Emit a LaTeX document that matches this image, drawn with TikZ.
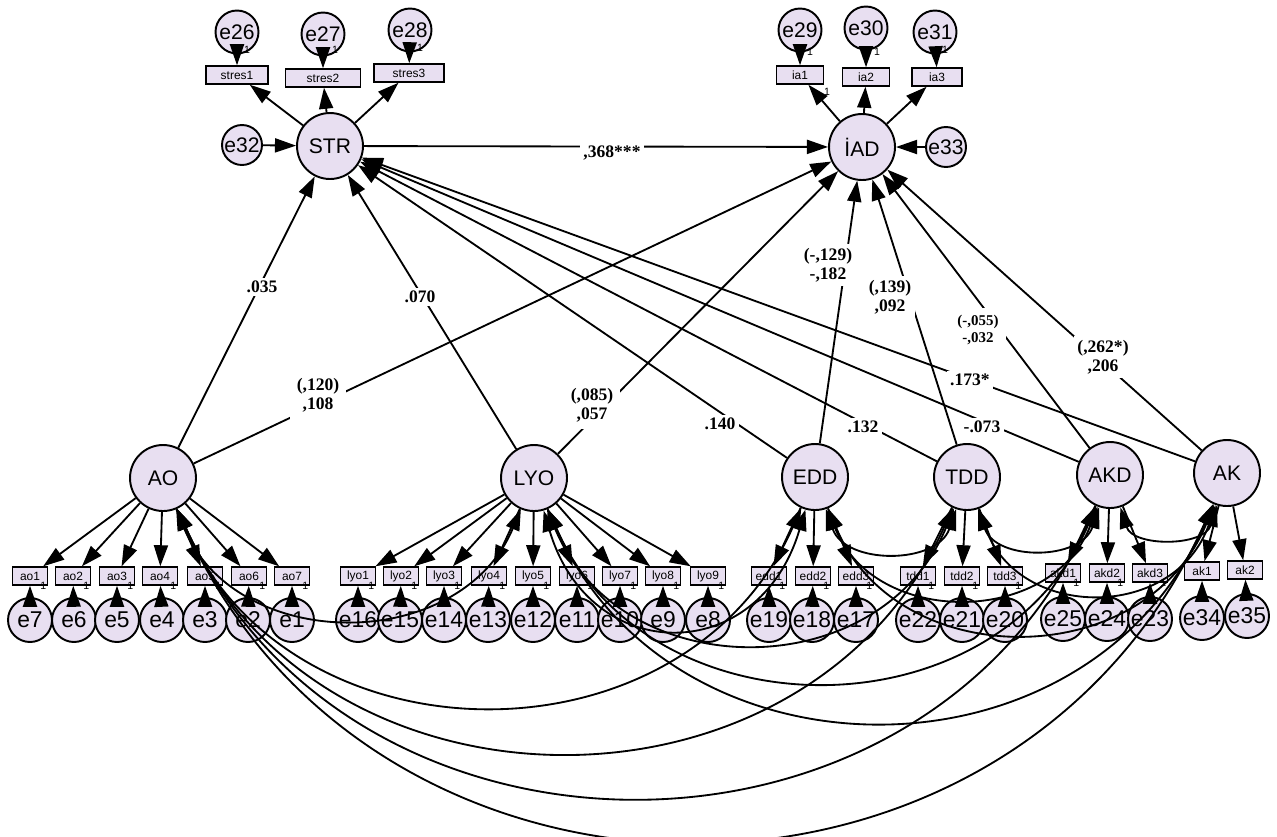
\documentclass[tikz,border=0pt]{standalone}
\usepackage{fontspec}
\setmainfont{Liberation Serif}
\setsansfont{Liberation Sans}
\usepackage{tikz}
\usetikzlibrary{arrows.meta}
\definecolor{LatentFill}{HTML}{E8DFF1}
\tikzset{
  % Node styles
  latent/.style={circle, draw=black, line width=1.1pt, fill=LatentFill, minimum size=1.32cm, inner sep=0pt, font=\sffamily\fontsize{12}{14}\selectfont},
  errnode/.style={circle, draw=black, line width=1.1pt, fill=LatentFill, minimum size=0.88cm, inner sep=0pt, font=\sffamily\fontsize{13}{15}\selectfont},
  toperr/.style={errnode, minimum size=0.86cm, font=\sffamily\fontsize{12}{14}\selectfont},
  itembox/.style={rectangle, draw=black, line width=1.1pt, fill=LatentFill, minimum width=0.7cm, minimum height=0.35cm, inner sep=0pt, font=\sffamily\fontsize{6.8}{7}\selectfont},
  itemone/.style={itembox, label={[one, anchor=center, xshift=-3pt]south east:1}},
  % Arrow styles
  reg/.style={-{Triangle[length=12pt,width=8pt]}, line width=1.05pt},
  cov/.style={{Triangle[length=12pt,width=8pt]}-{Triangle[length=12pt,width=8pt]}, line width=1.05pt},
  % Label styles
  coef/.style={fill=white, inner sep=2pt, font=\bfseries\fontsize{10}{11}\selectfont, align=center},
  one/.style={inner sep=0pt, font=\sffamily\fontsize{6}{6}\selectfont}
}

\begin{document}
\begin{tikzpicture}[x=0.02cm, y=-0.02cm]
  \useasboundingbox (0,0) rectangle (1277,836);

  % Endogenous latents
  \node[latent] (STR) at (330,146) {STR};
  \node[latent] (IAD) at (862,147) {İAD};
  \node[toperr, minimum size=0.8cm] (e32) at (242,145) {e32};
  \node[toperr, minimum size=0.8cm] (e33) at (946,147) {e33};

  % STR indicators
  \node[itembox, minimum width=1.24cm] (stres1) at (237,75) {stres1};
  \node[itembox, minimum width=1.5cm] (stres2) at (323,78) {stres2};
  \node[itembox, minimum width=1.4cm] (stres3) at (409,73) {stres3};
  \node[toperr] (e26) at (237,32) {e26};
  \node[toperr] (e27) at (323,34) {e27};
  \node[toperr] (e28) at (410,30) {e28};

  % IAD indicators
  \node[itembox, minimum width=0.94cm] (ia1) at (800,75) {ia1};
  \node[itembox, minimum width=0.94cm] (ia2) at (866,77) {ia2};
  \node[itembox, minimum width=1.0cm] (ia3) at (937,77) {ia3};
  \node[toperr] (e29) at (800,30) {e29};
  \node[toperr] (e30) at (866,28) {e30};
  \node[toperr] (e31) at (935,32) {e31};

  % Fixed loadings
  \node[one] (o26) at (247,50) {1};
  \node[one] (o27) at (335,50) {1};
  \node[one] (o28) at (420,48) {1};
  \node[one] (o29) at (810,52) {1};
  \node[one] (o30) at (877,52) {1};
  \node[one] (o31) at (945,50) {1};
  \node[one] (oia) at (827,92) {1};

  % Exogenous latents
  \node[latent] (AO) at (163,478) {AO};
  \node[latent] (LYO) at (534,478) {LYO};
  \node[latent] (EDD) at (815,477) {EDD};
  \node[latent] (TDD) at (967,477) {TDD};
  \node[latent] (AKD) at (1110,475) {AKD};
  \node[latent] (AK) at (1227,473) {AK};

  % AO items
  \node[itemone] (ao1) at (30,576) {ao1};
  \node[itemone] (ao2) at (73,576) {ao2};
  \node[itemone] (ao3) at (117,576) {ao3};
  \node[itemone] (ao4) at (160,576) {ao4};
  \node[itemone] (ao5) at (205,576) {ao5};
  \node[itemone] (ao6) at (249,576) {ao6};
  \node[itemone] (ao7) at (292,576) {ao7};
  \node[errnode] (e7) at (30,620) {e7};
  \node[errnode] (e6) at (74,620) {e6};
  \node[errnode] (e5) at (117,620) {e5};
  \node[errnode] (e4) at (162,620) {e4};
  \node[errnode] (e3) at (205,620) {e3};
  \node[errnode] (e2) at (248,620) {e2};
  \node[errnode] (e1) at (292,620) {e1};

  % LYO items
  \node[itemone] (lyo1) at (358,576) {lyo1};
  \node[itemone] (lyo2) at (401,576) {lyo2};
  \node[itemone] (lyo3) at (444,576) {lyo3};
  \node[itemone] (lyo4) at (489,576) {lyo4};
  \node[itemone] (lyo5) at (533,576) {lyo5};
  \node[itemone] (lyo6) at (577,576) {lyo6};
  \node[itemone] (lyo7) at (620,576) {lyo7};
  \node[itemone] (lyo8) at (663,576) {lyo8};
  \node[itemone] (lyo9) at (708,576) {lyo9};
  \node[errnode] (e16) at (358,620) {e16};
  \node[errnode] (e15) at (400,620) {e15};
  \node[errnode] (e14) at (444,620) {e14};
  \node[errnode] (e13) at (488,620) {e13};
  \node[errnode] (e12) at (533,620) {e12};
  \node[errnode] (e11) at (577,620) {e11};
  \node[errnode] (e10) at (620,620) {e10};
  \node[errnode] (e9) at (663,620) {e9};
  \node[errnode] (e8) at (708,620) {e8};

  % EDD, TDD, AKD, AK items
  \node[itemone] (edd1) at (769,576) {edd1};
  \node[itemone] (edd2) at (813,576) {edd2};
  \node[itemone] (edd3) at (856,576) {edd3};
  \node[itemone] (tdd1) at (918,576) {tdd1};
  \node[itemone] (tdd2) at (962,576) {tdd2};
  \node[itemone] (tdd3) at (1005,576) {tdd3};
  \node[itemone] (akd1) at (1063,573) {akd1};
  \node[itemone] (akd2) at (1107,573) {akd2};
  \node[itemone] (akd3) at (1150,573) {akd3};
  \node[itembox] (ak1) at (1202,571) {ak1};
  \node[itembox] (ak2) at (1245,570) {ak2};
  \node[errnode] (e19) at (769,620) {e19};
  \node[errnode] (e18) at (812,620) {e18};
  \node[errnode] (e17) at (856,620) {e17};
  \node[errnode] (e22) at (918,620) {e22};
  \node[errnode] (e21) at (962,620) {e21};
  \node[errnode] (e20) at (1005,620) {e20};
  \node[errnode] (e25) at (1063,619) {e25};
  \node[errnode] (e24) at (1107,619) {e24};
  \node[errnode] (e23) at (1150,619) {e23};
  \node[errnode] (e34) at (1202,618) {e34};
  \node[errnode] (e35) at (1247,616) {e35};

  % Measurement paths, top
  \draw[reg] (STR) -- (stres1);
  \draw[reg] (STR) -- (stres2);
  \draw[reg] (STR) -- (stres3);
  \draw[reg] (IAD) -- (ia1);
  \draw[reg] (IAD) -- (ia2);
  \draw[reg] (IAD) -- (ia3);
  \draw[reg] (e26) -- (stres1);
  \draw[reg] (e27) -- (stres2);
  \draw[reg] (e28) -- (stres3);
  \draw[reg] (e29) -- (ia1);
  \draw[reg] (e30) -- (ia2);
  \draw[reg] (e31) -- (ia3);
  \draw[reg] (e32) -- (STR);
  \draw[reg] (e33) -- (IAD);

  % Measurement paths, bottom
  \draw[reg] (AO) -- (ao1);
  \draw[reg] (AO) -- (ao2);
  \draw[reg] (AO) -- (ao3);
  \draw[reg] (AO) -- (ao4);
  \draw[reg] (AO) -- (ao5);
  \draw[reg] (AO) -- (ao6);
  \draw[reg] (AO) -- (ao7);
  \draw[reg] (LYO) -- (lyo1);
  \draw[reg] (LYO) -- (lyo2);
  \draw[reg] (LYO) -- (lyo3);
  \draw[reg] (LYO) -- (lyo4);
  \draw[reg] (LYO) -- (lyo5);
  \draw[reg] (LYO) -- (lyo6);
  \draw[reg] (LYO) -- (lyo7);
  \draw[reg] (LYO) -- (lyo8);
  \draw[reg] (LYO) -- (lyo9);
  \draw[reg] (EDD) -- (edd1);
  \draw[reg] (EDD) -- (edd2);
  \draw[reg] (EDD) -- (edd3);
  \draw[reg] (TDD) -- (tdd1);
  \draw[reg] (TDD) -- (tdd2);
  \draw[reg] (TDD) -- (tdd3);
  \draw[reg] (AKD) -- (akd1);
  \draw[reg] (AKD) -- (akd2);
  \draw[reg] (AKD) -- (akd3);
  \draw[reg] (AK) -- (ak1);
  \draw[reg] (AK) -- (ak2);
  \draw[reg] (e7) -- (ao1);
  \draw[reg] (e6) -- (ao2);
  \draw[reg] (e5) -- (ao3);
  \draw[reg] (e4) -- (ao4);
  \draw[reg] (e3) -- (ao5);
  \draw[reg] (e2) -- (ao6);
  \draw[reg] (e1) -- (ao7);
  \draw[reg] (e16) -- (lyo1);
  \draw[reg] (e15) -- (lyo2);
  \draw[reg] (e14) -- (lyo3);
  \draw[reg] (e13) -- (lyo4);
  \draw[reg] (e12) -- (lyo5);
  \draw[reg] (e11) -- (lyo6);
  \draw[reg] (e10) -- (lyo7);
  \draw[reg] (e9) -- (lyo8);
  \draw[reg] (e8) -- (lyo9);
  \draw[reg] (e19) -- (edd1);
  \draw[reg] (e18) -- (edd2);
  \draw[reg] (e17) -- (edd3);
  \draw[reg] (e22) -- (tdd1);
  \draw[reg] (e21) -- (tdd2);
  \draw[reg] (e20) -- (tdd3);
  \draw[reg] (e25) -- (akd1);
  \draw[reg] (e24) -- (akd2);
  \draw[reg] (e23) -- (akd3);
  \draw[reg] (e34) -- (ak1);
  \draw[reg] (e35) -- (ak2);

  % Structural paths
  \draw[reg] (STR) -- (IAD);
  \draw[reg] (AO) -- (STR);
  \draw[reg] (LYO) -- (STR);
  \draw[reg] (EDD) -- (STR);
  \draw[reg] (TDD) -- (STR);
  \draw[reg] (AKD) -- (STR);
  \draw[reg] (AK) -- (STR);
  \draw[reg] (AO) -- (IAD);
  \draw[reg] (LYO) -- (IAD);
  \draw[reg] (EDD) -- (IAD);
  \draw[reg] (TDD) -- (IAD);
  \draw[reg] (AKD) -- (IAD);
  \draw[reg] (AK) -- (IAD);

  % Covariances
  \draw[cov] (AO) .. controls (237,654) and (460,654) .. (LYO);
  \draw[cov] (AO) .. controls (293,770) and (685,770) .. (EDD);
  \draw[cov] (AO) .. controls (324,831) and (806,831) .. (TDD);
  \draw[cov] (AO) .. controls (352,891) and (921,891) .. (AKD);
  \draw[cov] (AO) .. controls (376,950) and (1014,950) .. (AK);
  \draw[cov] (LYO) .. controls (590,667) and (759,667) .. (EDD);
  \draw[cov] (LYO) .. controls (621,687) and (880,687) .. (TDD);
  \draw[cov] (LYO) .. controls (649,738) and (995,738) .. (AKD);
  \draw[cov] (LYO) .. controls (673,791) and (1088,791) .. (AK);
  \draw[cov] (EDD) .. controls (845,565) and (937,565) .. (TDD);
  \draw[cov] (EDD) .. controls (874,627) and (1051,627) .. (AKD);
  \draw[cov] (EDD) .. controls (897,674) and (1145,674) .. (AK);
  \draw[cov] (TDD) .. controls (996,561) and (1081,561) .. (AKD);
  \draw[cov] (TDD) .. controls (1019,621) and (1175,621) .. (AK);
  \draw[cov] (AKD) .. controls (1133,547) and (1204,547) .. (AK);

  % Estimates
  \node[coef] (lsi) at (612,153) {,368***};
  \node[coef] (lao) at (262,287) {.035};
  \node[coef] (llyo) at (420,297) {.070};
  \node[coef] (ledd) at (720,424) {.140};
  \node[coef] (ltdd) at (863,427) {.132};
  \node[coef] (lakd) at (982,427) {-.073};
  \node[coef] (lak) at (970,380) {.173*};
  \node[coef, inner sep=4pt] (mao) at (318,395) {(,120)\\,108};
  \node[coef, inner sep=4pt] (mlyo) at (592,405) {(,085)\\,057};
  \node[coef] (medd) at (828,265) {(-,129)\\-,182};
  \node[coef] (mtdd) at (890,297) {(,139)\\,092};
  \node[coef, inner sep=4pt, font=\bfseries\fontsize{8.5}{10}\selectfont] (makd) at (978,330) {(-,055)\\-,032};
  \node[coef] (mak) at (1103,357) {(,262*)\\,206};
\end{tikzpicture}
\end{document}
